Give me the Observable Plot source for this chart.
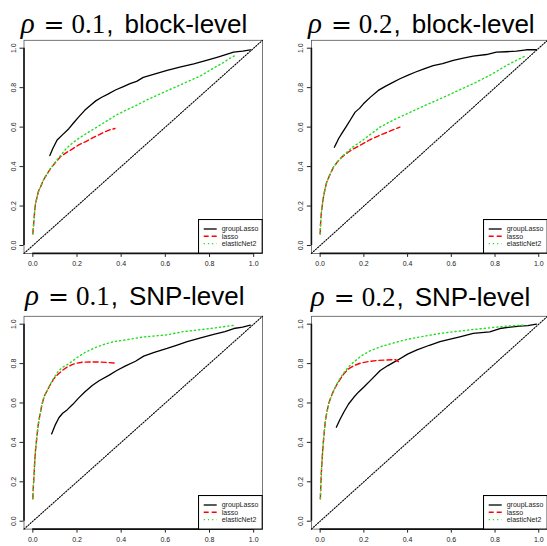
<!DOCTYPE html>
<html><head><meta charset="utf-8">
<script src="https://cdn.jsdelivr.net/npm/d3@7"></script>
<script src="https://cdn.jsdelivr.net/npm/@observablehq/plot@0.6"></script>
<style>
body{margin:0;background:#fff;}
#root{position:relative;width:547px;height:546px;overflow:hidden;background:#fff;}
.panel{position:absolute;}
.panel svg{display:block;}
</style></head><body><div id="root"></div><script>
// ---------- data (FPR, TPR pairs) ----------
const seriesNames = ["groupLasso", "lasso", "elasticNet2"];
const tickValues = [0, 0.2, 0.4, 0.6, 0.8, 1.0];
const axisDomain = [-0.04, 1.04];

const titles = [
  {rho: "0.1", level: "block-level"},
  {rho: "0.2", level: "block-level"},
  {rho: "0.1", level: "SNP-level"},
  {rho: "0.2", level: "SNP-level"}
];

const block01_groupLasso = [[0.077,0.456],[0.09,0.49],[0.11,0.535],[0.135,0.562],[0.163,0.592],[0.185,0.622],[0.208,0.652],[0.235,0.685],[0.26,0.71],[0.285,0.733],[0.31,0.75],[0.34,0.767],[0.374,0.788],[0.41,0.805],[0.44,0.82],[0.47,0.832],[0.5,0.852],[0.55,0.868],[0.608,0.887],[0.67,0.905],[0.729,0.921],[0.79,0.94],[0.834,0.954],[0.87,0.966],[0.909,0.98],[0.95,0.985],[0.985,0.992]];
const block01_lasso = [[0,0.059],[0.003,0.1],[0.005,0.127],[0.008,0.17],[0.012,0.211],[0.02,0.25],[0.027,0.28],[0.035,0.296],[0.045,0.325],[0.055,0.345],[0.065,0.363],[0.08,0.39],[0.103,0.422],[0.125,0.45],[0.155,0.473],[0.18,0.49],[0.208,0.51],[0.24,0.527],[0.284,0.553],[0.32,0.573],[0.345,0.585],[0.372,0.593]];
const block01_elasticNet2 = [[0,0.059],[0.003,0.1],[0.005,0.127],[0.008,0.17],[0.012,0.211],[0.02,0.25],[0.027,0.28],[0.035,0.296],[0.045,0.325],[0.055,0.345],[0.065,0.363],[0.08,0.39],[0.103,0.425],[0.125,0.455],[0.15,0.49],[0.18,0.52],[0.208,0.543],[0.24,0.566],[0.284,0.596],[0.33,0.628],[0.374,0.659],[0.42,0.685],[0.46,0.705],[0.52,0.74],[0.58,0.77],[0.64,0.8],[0.7,0.83],[0.76,0.86],[0.82,0.9],[0.86,0.925],[0.894,0.95],[0.92,0.965]];

const block02_groupLasso = [[0.065,0.498],[0.075,0.52],[0.084,0.541],[0.1,0.57],[0.122,0.608],[0.14,0.64],[0.16,0.676],[0.18,0.695],[0.198,0.718],[0.23,0.752],[0.266,0.786],[0.3,0.808],[0.335,0.828],[0.365,0.845],[0.4,0.862],[0.434,0.878],[0.475,0.895],[0.517,0.912],[0.56,0.922],[0.609,0.938],[0.655,0.95],[0.7,0.96],[0.761,0.968],[0.806,0.98],[0.85,0.982],[0.898,0.985],[0.943,0.992],[0.989,0.992]];
const block02_lasso = [[0,0.059],[0.002,0.11],[0.005,0.16],[0.01,0.205],[0.015,0.245],[0.022,0.285],[0.03,0.321],[0.045,0.36],[0.061,0.397],[0.08,0.425],[0.099,0.448],[0.125,0.47],[0.152,0.49],[0.19,0.512],[0.228,0.536],[0.26,0.552],[0.289,0.566],[0.33,0.585],[0.365,0.6]];
const block02_elasticNet2 = [[0,0.059],[0.002,0.11],[0.005,0.16],[0.01,0.205],[0.015,0.245],[0.022,0.285],[0.03,0.321],[0.045,0.36],[0.061,0.397],[0.08,0.425],[0.099,0.45],[0.125,0.475],[0.15,0.5],[0.183,0.524],[0.23,0.563],[0.274,0.6],[0.33,0.633],[0.396,0.667],[0.47,0.705],[0.548,0.743],[0.62,0.78],[0.7,0.82],[0.78,0.865],[0.852,0.912],[0.9,0.94],[0.943,0.963]];

const snp01_groupLasso = [[0.085,0.443],[0.1,0.485],[0.118,0.525],[0.135,0.548],[0.155,0.565],[0.18,0.592],[0.208,0.626],[0.235,0.656],[0.269,0.689],[0.3,0.713],[0.344,0.74],[0.38,0.765],[0.42,0.788],[0.465,0.812],[0.502,0.838],[0.55,0.857],[0.608,0.877],[0.65,0.893],[0.699,0.911],[0.76,0.93],[0.819,0.948],[0.87,0.962],[0.91,0.978],[0.95,0.985],[0.985,0.995]];
const snp01_lasso = [[0,0.114],[0.002,0.17],[0.005,0.223],[0.008,0.29],[0.012,0.359],[0.018,0.425],[0.024,0.486],[0.032,0.54],[0.042,0.596],[0.052,0.635],[0.065,0.663],[0.08,0.695],[0.095,0.723],[0.113,0.745],[0.133,0.765],[0.155,0.782],[0.178,0.795],[0.2,0.802],[0.224,0.807],[0.26,0.808],[0.3,0.808],[0.33,0.806],[0.37,0.803]];
const snp01_elasticNet2 = [[0,0.114],[0.002,0.17],[0.005,0.223],[0.008,0.29],[0.012,0.359],[0.018,0.425],[0.024,0.486],[0.032,0.54],[0.042,0.596],[0.052,0.635],[0.065,0.663],[0.08,0.697],[0.095,0.728],[0.118,0.765],[0.14,0.785],[0.163,0.799],[0.2,0.83],[0.238,0.858],[0.28,0.88],[0.329,0.9],[0.37,0.912],[0.419,0.92],[0.5,0.935],[0.608,0.946],[0.68,0.962],[0.759,0.972],[0.83,0.982],[0.894,0.992],[0.92,0.995]];

const snp02_groupLasso = [[0.074,0.477],[0.09,0.515],[0.108,0.553],[0.13,0.595],[0.154,0.629],[0.175,0.655],[0.199,0.68],[0.235,0.72],[0.275,0.765],[0.31,0.79],[0.352,0.816],[0.4,0.848],[0.443,0.87],[0.5,0.893],[0.548,0.911],[0.6,0.925],[0.639,0.936],[0.7,0.953],[0.776,0.961],[0.822,0.978],[0.87,0.985],[0.913,0.99],[0.95,0.993],[0.989,1.0]];
const snp02_lasso = [[0.001,0.114],[0.003,0.18],[0.006,0.257],[0.01,0.33],[0.014,0.393],[0.019,0.455],[0.024,0.511],[0.031,0.555],[0.039,0.596],[0.05,0.632],[0.062,0.663],[0.077,0.695],[0.093,0.723],[0.11,0.75],[0.131,0.774],[0.155,0.79],[0.184,0.802],[0.22,0.81],[0.26,0.816],[0.3,0.818],[0.344,0.82],[0.358,0.81]];
const snp02_elasticNet2 = [[0.001,0.114],[0.003,0.18],[0.006,0.257],[0.01,0.33],[0.014,0.393],[0.019,0.455],[0.024,0.511],[0.031,0.555],[0.039,0.596],[0.05,0.632],[0.062,0.663],[0.077,0.697],[0.093,0.728],[0.11,0.755],[0.131,0.785],[0.154,0.808],[0.19,0.84],[0.23,0.866],[0.275,0.885],[0.321,0.9],[0.37,0.915],[0.412,0.926],[0.48,0.94],[0.548,0.953],[0.62,0.963],[0.7,0.973],[0.78,0.982],[0.852,0.99],[0.93,0.995]];

// ---------- styles ----------
const seriesColors = ["#000000", "#ff0000", "#22dd22"];
const seriesDash = [null, "5,3", "1.2,3"];
const seriesWidth = [1.3, 1.4, 1.4];
const sans = "'Liberation Sans', Arial, Helvetica, sans-serif";

const panels = [
  {series: [block01_groupLasso, block01_lasso, block01_elasticNet2], left: 0,   top: 0,   width: 273, height: 273, mL: 23.5, mR: 11, mT: 39.8, mB: 20.1, cx: 134,   base: 33.3},
  {series: [block02_groupLasso, block02_lasso, block02_elasticNet2], left: 273, top: 0,   width: 274, height: 273, mL: 37.9, mR: 0,  mT: 39.8, mB: 20.1, cx: 421.3, base: 33.3},
  {series: [snp01_groupLasso, snp01_lasso, snp01_elasticNet2],       left: 0,   top: 273, width: 273, height: 273, mL: 23.5, mR: 11, mT: 42.8, mB: 17.4, cx: 134.8, base: 305.3},
  {series: [snp02_groupLasso, snp02_lasso, snp02_elasticNet2],       left: 273, top: 273, width: 274, height: 273, mL: 37.9, mR: 0,  mT: 42.8, mB: 17.4, cx: 420.5, base: 306}
];

const root = document.getElementById("root");
const fmt = d3.format(".1f");
const diag = axisDomain.map(d => ({x: d, y: d}));

panels.forEach((p, pi) => {
  const div = document.createElement("div");
  div.className = "panel";
  Object.assign(div.style, {left: p.left + "px", top: p.top + "px", width: p.width + "px", height: p.height + "px"});
  const marks = [
    Plot.frame({stroke: "#555", strokeWidth: 0.8}),
    Plot.ruleY([axisDomain[0]], {x1: tickValues[0], x2: tickValues[tickValues.length - 1], stroke: "#111", strokeWidth: 1.6}),
    Plot.ruleX([axisDomain[0]], {y1: tickValues[0], y2: tickValues[tickValues.length - 1], stroke: "#111", strokeWidth: 1.6}),
    Plot.axisX({ticks: tickValues, tickFormat: fmt, tickSize: 4, tickPadding: 4, label: null, fontSize: 7}),
    Plot.axisY({ticks: tickValues, tickFormat: fmt, tickSize: 4, tickPadding: 4, tickRotate: -90, label: null, fontSize: 7}),
    Plot.line(diag, {x: "x", y: "y", stroke: "#000", strokeWidth: 1.1, strokeDasharray: "1.2,1.6"})
  ];
  p.series.forEach((s, i) => {
    marks.push(Plot.line(s, {x: d => d[0], y: d => d[1], stroke: seriesColors[i], strokeWidth: seriesWidth[i], strokeDasharray: seriesDash[i] || undefined}));
  });
  const plot = Plot.plot({
    width: p.width, height: p.height,
    marginLeft: p.mL, marginRight: p.mR, marginTop: p.mT, marginBottom: p.mB,
    x: {domain: axisDomain},
    y: {domain: axisDomain},
    style: {background: "white", fontFamily: sans, fontSize: "7px", color: "#222", overflow: "visible"},
    marks
  });
  div.appendChild(plot);
  root.appendChild(div);

  // legend box anchored at the bottom-right of the frame
  const lw = 63.7, lh = 33.6;
  const lx = p.left + p.width - p.mR - lw;
  const ly = p.top + p.height - p.mB - lh;
  const lg = d3.select(root).append("svg")
    .style("position", "absolute").style("left", lx + "px").style("top", ly + "px")
    .attr("width", lw + 1).attr("height", lh + 1);
  lg.append("rect").attr("x", 0.5).attr("y", 0.5).attr("width", lw).attr("height", lh)
    .attr("fill", "white").attr("stroke", "#000").attr("stroke-width", 1.1);
  seriesNames.forEach((name, i) => {
    const yy = 10 + i * 7.3;
    lg.append("line").attr("x1", 5.7).attr("x2", 18.7).attr("y1", yy).attr("y2", yy)
      .attr("stroke", seriesColors[i]).attr("stroke-width", seriesWidth[i])
      .attr("stroke-dasharray", seriesDash[i] || null);
    lg.append("text").attr("x", 23.7).attr("y", yy).attr("dy", "0.35em")
      .attr("font-family", sans).attr("font-size", 7).attr("fill", "#222").text(name);
  });
});

// titles
const tsvg = d3.select(root).append("svg")
  .style("position", "absolute").style("left", "0px").style("top", "0px")
  .attr("width", 547).attr("height", 546).style("pointer-events", "none");
panels.forEach((p, i) => {
  const t = titles[i];
  const tx = tsvg.append("text").attr("x", p.cx).attr("y", p.base).attr("text-anchor", "middle")
    .attr("font-size", 26).attr("fill", "#000");
  tx.append("tspan").attr("font-family", "'Liberation Serif', serif").attr("font-style", "italic").attr("font-size", 29).text("ρ");
  tx.append("tspan").attr("dx", 9).attr("font-family", "'DejaVu Serif', serif").attr("font-size", 25).text("=");
  tx.append("tspan").attr("dx", 7).attr("font-family", "'Liberation Serif', serif").attr("font-size", 27).text(t.rho);
  tx.append("tspan").attr("dx", 1).attr("font-family", sans).text(",");
  tx.append("tspan").attr("dx", 11).attr("font-family", sans).text(t.level);
});
</script></body></html>
